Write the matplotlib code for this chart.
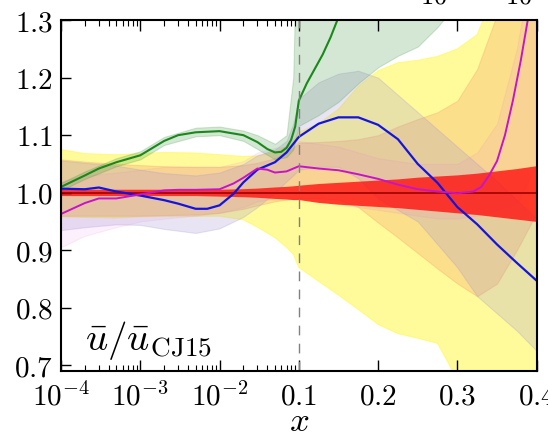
import numpy as np
import matplotlib
matplotlib.use('Agg')
import matplotlib.pyplot as plt
from matplotlib.ticker import FixedLocator, FixedFormatter

plt.rcParams['mathtext.fontset'] = 'cm'

# common x grid for the bands
xb = [1e-4, 2e-4, 5e-4, 1e-3, 2e-3, 5e-3, 1e-2, 2e-2, 3e-2, 5e-2, 7e-2, 0.085,
      0.1, 0.125, 0.15, 0.175, 0.2, 0.225, 0.25, 0.275, 0.3, 0.325, 0.35, 0.375, 0.4]

yel_lo = [0.958, 0.957, 0.956, 0.958, 0.959, 0.959, 0.959, 0.953, 0.94, 0.922, 0.905, 0.893,
          0.87, 0.846, 0.822, 0.797, 0.771, 0.755, 0.747, 0.738, 0.675, 0.64, 0.61, 0.58, 0.55]
yel_hi = [1.075, 1.068, 1.066, 1.068, 1.07, 1.069, 1.066, 1.063, 1.064, 1.07, 1.08, 1.09,
          1.105, 1.12, 1.145, 1.185, 1.212, 1.226, 1.23, 1.237, 1.25, 1.275, 1.36, 1.42, 1.5]

org_lo = [0.96, 0.96, 0.96, 0.96, 0.961, 0.962, 0.965, 0.972, 0.978, 0.985, 0.988, 0.989,
          0.99, 0.99, 0.988, 0.975, 0.948, 0.922, 0.895, 0.868, 0.842, 0.82, 0.842, 0.9, 0.965]
org_hi = [1.058, 1.054, 1.05, 1.048, 1.046, 1.045, 1.045, 1.048, 1.052, 1.06, 1.07, 1.078,
          1.087, 1.088, 1.09, 1.093, 1.1, 1.115, 1.128, 1.14, 1.16, 1.215, 1.31, 1.4, 1.5]

blu_lo = [0.935, 0.94, 0.945, 0.944, 0.937, 0.93, 0.938, 0.958, 0.975, 1.0, 1.02, 1.03,
          1.04, 1.045, 1.045, 1.025, 0.99, 0.97, 0.95, 0.91, 0.87, 0.82, 0.79, 0.76, 0.725]
blu_hi = [1.056, 1.052, 1.047, 1.04, 1.034, 1.03, 1.035, 1.05, 1.065, 1.075, 1.09, 1.12,
          1.163, 1.192, 1.207, 1.212, 1.2, 1.17, 1.14, 1.11, 1.08, 1.05, 1.02, 0.987, 0.955]

grn_lo = [1.004, 1.024, 1.046, 1.058, 1.083, 1.098, 1.1, 1.09, 1.076, 1.058, 1.062, 1.075,
          1.116, 1.135, 1.158, 1.19, 1.218, 1.238, 1.254, 1.288, 1.33, 1.38, 1.43, 1.48, 1.53]
grn_hi = [1.017, 1.037, 1.06, 1.072, 1.097, 1.113, 1.115, 1.108, 1.1, 1.085, 1.1, 1.2,
          1.6, 1.6, 1.6, 1.6, 1.6, 1.6, 1.6, 1.6, 1.6, 1.6, 1.6, 1.6, 1.6]

mag_lo = [0.905, 0.925, 0.94, 0.95, 0.955, 0.96, 0.965, 0.975, 0.985, 0.99, 0.99, 0.99,
          0.99, 0.985, 0.98, 0.975, 0.97, 0.965, 0.96, 0.955, 0.955, 0.96, 0.97, 0.98, 1.05]
mag_hi = [1.02, 1.03, 1.035, 1.04, 1.045, 1.045, 1.045, 1.055, 1.07, 1.078, 1.08, 1.085,
          1.09, 1.085, 1.08, 1.07, 1.06, 1.055, 1.05, 1.05, 1.05, 1.07, 1.12, 1.25, 1.45]

red_lo = [0.995, 0.995, 0.995, 0.995, 0.995, 0.995, 0.994, 0.993, 0.992, 0.99, 0.989, 0.988,
          0.988, 0.983, 0.98, 0.978, 0.976, 0.974, 0.971, 0.968, 0.965, 0.962, 0.958, 0.954, 0.95]
red_hi = [1.006, 1.006, 1.006, 1.006, 1.006, 1.006, 1.006, 1.007, 1.008, 1.01, 1.011, 1.012,
          1.013, 1.016, 1.018, 1.02, 1.022, 1.024, 1.027, 1.029, 1.031, 1.034, 1.038, 1.042, 1.047]

# central lines
x_grn = [1e-4, 2e-4, 3e-4, 5e-4, 1e-3, 2e-3, 3e-3, 5e-3, 1e-2, 2e-2, 3e-2, 4e-2, 5e-2,
         6e-2, 7e-2, 8e-2, 9e-2, 0.1, 0.11, 0.12, 0.13, 0.14, 0.15, 0.16]
y_grn = [1.01, 1.03, 1.042, 1.053, 1.065, 1.09, 1.1, 1.105, 1.107, 1.1, 1.088, 1.076, 1.07,
         1.071, 1.078, 1.092, 1.115, 1.16, 1.19, 1.215, 1.24, 1.27, 1.305, 1.34]

x_blu = [1e-4, 2e-4, 3e-4, 5e-4, 1e-3, 2e-3, 3e-3, 5e-3, 7e-3, 1e-2, 1.5e-2, 2e-2, 3e-2,
         5e-2, 7e-2, 0.1, 0.125, 0.15, 0.175, 0.2, 0.225, 0.25, 0.275, 0.3, 0.325, 0.35,
         0.375, 0.4]
y_blu = [1.007, 1.006, 1.009, 1.002, 0.995, 0.987, 0.981, 0.972, 0.972, 0.978, 0.998, 1.018,
         1.04, 1.053, 1.07, 1.097, 1.12, 1.131, 1.131, 1.118, 1.093, 1.05, 1.017, 0.975,
         0.945, 0.91, 0.878, 0.847]

x_mag = [1e-4, 2e-4, 3e-4, 5e-4, 1e-3, 2e-3, 3e-3, 5e-3, 1e-2, 1.5e-2, 2e-2, 3e-2, 4e-2,
         5e-2, 7e-2, 0.1, 0.125, 0.15, 0.175, 0.2, 0.225, 0.25, 0.275, 0.3, 0.32, 0.33,
         0.34, 0.35, 0.36, 0.37, 0.38, 0.39, 0.4]
y_mag = [0.963, 0.982, 0.99, 0.99, 0.997, 1.004, 1.005, 1.005, 1.006, 1.016, 1.026, 1.042,
         1.04, 1.035, 1.037, 1.046, 1.042, 1.039, 1.032, 1.024, 1.014, 1.006, 1.002, 0.999,
         1.002, 1.01, 1.03, 1.055, 1.1, 1.16, 1.23, 1.31, 1.4]

xticks = [1e-4, 1e-3, 1e-2, 0.1, 0.2, 0.3, 0.4]
xticklabels = [r'$10^{-4}$', r'$10^{-3}$', r'$10^{-2}$', r'$0.1$', r'$0.2$', r'$0.3$', r'$0.4$']
yticks = [0.7, 0.8, 0.9, 1.0, 1.1, 1.2, 1.3]


# log axis below x=0.1, linear above
def fwd(x):
    x = np.asarray(x, dtype=float)
    lo = np.log10(np.clip(x, 1e-12, None)) + 4
    hi = 3 + (x - 0.1) * 10
    return np.where(x < 0.1, lo, hi)


def inv(u):
    u = np.asarray(u, dtype=float)
    return np.where(u < 3, 10 ** (np.clip(u, -20, 3) - 4), 0.1 + (u - 3) / 10)


fig = plt.figure(figsize=(5.48, 4.38), dpi=100)
ax = fig.add_axes([0.1113, 0.153, 0.868, 0.801])
ax.set_xscale('function', functions=(fwd, inv))

ax.fill_between(xb, yel_lo, yel_hi, color='#fff94a', alpha=0.55, lw=0.8)
ax.fill_between(xb, org_lo, org_hi, color='#f5a068', alpha=0.3, lw=0.8)
ax.fill_between(xb, blu_lo, blu_hi, color='#a595d0', alpha=0.25, lw=0.8)
ax.fill_between(xb, mag_lo, mag_hi, color='#e070e0', alpha=0.1, lw=0.8)
ax.fill_between(xb, grn_lo, grn_hi, color='#3c963c', alpha=0.22, lw=0.8)
ax.fill_between(xb, red_lo, red_hi, color='#ff1010', alpha=0.8, lw=0)

ax.axhline(1.0, color='#a00000', lw=1.2)
ax.plot(x_grn, y_grn, color='#1a881a', lw=1.5)
ax.plot(x_blu, y_blu, color='#1414e0', lw=1.6)
ax.plot(x_mag, y_mag, color='#c814c8', lw=1.4)
ax.axvline(0.1, color='#808080', lw=1, dashes=(7, 6))

ax.set_xlim(1e-4, 0.4)
ax.set_ylim(0.69, 1.3)

minor = [k * 10.0 ** e for e in (-4, -3, -2) for k in range(2, 10)]
ax.xaxis.set_major_locator(FixedLocator(xticks))
ax.xaxis.set_major_formatter(FixedFormatter(xticklabels))
ax.xaxis.set_minor_locator(FixedLocator(minor))
ax.xaxis.set_minor_formatter(FixedFormatter([]))
ax.set_yticks(yticks, labels=[r'$%.1f$' % v for v in yticks])

ax.tick_params(which='both', direction='in', top=True, right=False, labelsize=21)
ax.tick_params(axis='x', which='major', length=8, width=1, pad=8)
ax.tick_params(axis='x', which='minor', length=4, width=0.8)
ax.tick_params(axis='y', length=7, width=1, pad=6)
for s in ax.spines.values():
    s.set_linewidth(1.5)

ax.set_xlabel(r'$x$', fontsize=25, va='baseline')
ax.xaxis.set_label_coords(0.5, -0.171)
ax.text(0.05, 0.06, r'$\bar{u}/\bar{u}_{\rm CJ15}$', transform=ax.transAxes,
        fontsize=28, ha='left', va='baseline')

# bits of the neighbouring panel's labels cut off at the top edge
fig.text(420 / 548, 1 - 4 / 438, r'$10$', fontsize=19, va='baseline')
fig.text(505 / 548, 1 - 4 / 438, r'$10$', fontsize=19, va='baseline')

fig.savefig('out.png', dpi=100)
